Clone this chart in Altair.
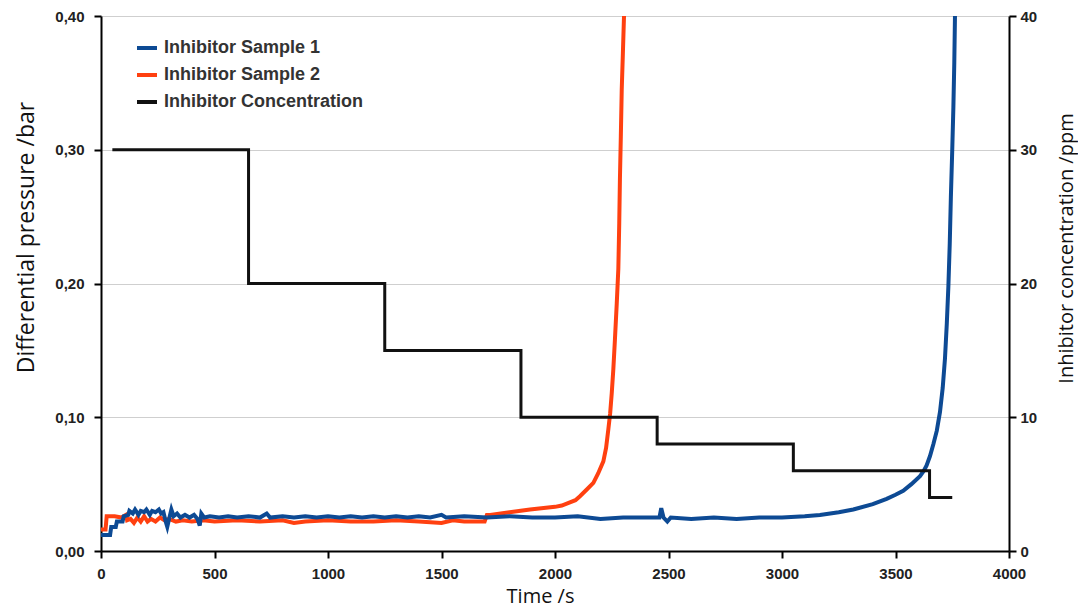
import altair as alt
import pandas as pd

# ---- data ----
s1_t = [0, 40, 45, 65, 70, 95, 100, 120, 125, 140, 150, 165, 175, 190, 200, 215, 225, 240, 255, 265,
        275, 285, 292, 300, 310, 320, 335, 350, 370, 390, 410, 425, 435, 442, 455, 480, 520, 560, 600,
        650, 700, 730, 745, 800, 850, 900, 950, 1000, 1050, 1100, 1150, 1200, 1250, 1300, 1350, 1400,
        1450, 1500, 1520, 1600, 1700, 1800, 1900, 2000, 2100, 2200, 2300, 2400, 2460, 2468, 2478, 2495,
        2510, 2600, 2700, 2800, 2900, 3000, 3100, 3167, 3250, 3314, 3400, 3461, 3500, 3534, 3570, 3608,
        3625, 3637, 3652, 3667, 3682, 3696, 3708, 3718, 3726, 3733, 3739, 3744, 3750, 3755, 3759, 3762]
s1_v = [0.012, 0.012, 0.018, 0.018, 0.022, 0.022, 0.026, 0.027, 0.030, 0.028, 0.031, 0.027, 0.030, 0.029,
        0.031, 0.027, 0.030, 0.029, 0.031, 0.028, 0.029, 0.022, 0.018, 0.024, 0.031, 0.026, 0.028, 0.025,
        0.027, 0.025, 0.027, 0.024, 0.019, 0.028, 0.025, 0.026, 0.025, 0.026, 0.025, 0.026, 0.025, 0.028,
        0.025, 0.026, 0.025, 0.026, 0.025, 0.026, 0.025, 0.026, 0.025, 0.026, 0.025, 0.026, 0.025, 0.026,
        0.025, 0.027, 0.025, 0.026, 0.025, 0.026, 0.025, 0.025, 0.026, 0.024, 0.025, 0.025, 0.025, 0.032,
        0.025, 0.022, 0.025, 0.024, 0.025, 0.024, 0.025, 0.025, 0.026, 0.027, 0.029, 0.031, 0.035, 0.039,
        0.042, 0.045, 0.050, 0.056, 0.060, 0.064, 0.071, 0.080, 0.090, 0.104, 0.122, 0.144, 0.170, 0.198,
        0.230, 0.265, 0.300, 0.332, 0.365, 0.400]

s2_t = [0, 20, 25, 60, 90, 110, 115, 130, 145, 160, 175, 190, 205, 220, 240, 260, 280, 300, 330, 360,
        400, 450, 500, 600, 700, 800, 850, 900, 1000, 1100, 1200, 1300, 1400, 1500, 1550, 1600, 1690,
        1700, 1714, 1800, 1890, 2000, 2030, 2060, 2090, 2110, 2140, 2169, 2190, 2213, 2225, 2235, 2243,
        2250, 2257, 2264, 2272, 2279, 2283, 2286, 2290, 2294, 2299, 2304]
s2_v = [0.016, 0.016, 0.026, 0.026, 0.025, 0.027, 0.023, 0.024, 0.021, 0.025, 0.022, 0.026, 0.022, 0.024,
        0.022, 0.025, 0.023, 0.024, 0.022, 0.023, 0.022, 0.023, 0.022, 0.023, 0.022, 0.023, 0.021, 0.022,
        0.023, 0.022, 0.022, 0.023, 0.022, 0.021, 0.023, 0.022, 0.022, 0.027, 0.027, 0.029, 0.031, 0.033,
        0.034, 0.036, 0.038, 0.041, 0.046, 0.051, 0.058, 0.067, 0.077, 0.091, 0.103, 0.118, 0.136, 0.158,
        0.185, 0.211, 0.245, 0.278, 0.310, 0.345, 0.372, 0.400]

conc_t = [50, 650, 1250, 1850, 2450, 3050, 3650, 3750]
conc_v = [30, 20, 15, 10, 8, 6, 4, 4]

names = ["Inhibitor Sample 1", "Inhibitor Sample 2", "Inhibitor Concentration"]
colors = ["#0d4a94", "#ff4010", "#111111"]

x_ticks = [0, 500, 1000, 1500, 2000, 2500, 3000, 3500, 4000]
yl_ticks = [0, 0.1, 0.2, 0.3, 0.4]
yr_ticks = [0, 10, 20, 30, 40]

df1 = pd.DataFrame({"t": s1_t, "v": s1_v, "s": names[0]})
df2 = pd.DataFrame({"t": s2_t, "v": s2_v, "s": names[1]})
df3 = pd.DataFrame({"t": conc_t, "v": conc_v, "s": names[2]})

legend = alt.Legend(orient="none", legendX=34, legendY=20, title=None, symbolType="stroke",
                    symbolSize=400, symbolStrokeWidth=4, labelFont="Liberation Sans",
                    labelFontWeight="bold", labelFontSize=18, labelColor="#333333",
                    rowPadding=6, labelOffset=5, padding=0, labelLimit=400)
color = alt.Color("s:N", scale=alt.Scale(domain=names, range=colors), legend=legend)

xenc = alt.X("t:Q", scale=alt.Scale(domain=[0, 4000], nice=False),
             axis=alt.Axis(values=x_ticks, format="d", title="Time /s", grid=False,
                           tickSize=7, labelPadding=8, labelFlush=False, titleX=439, titleY=51,
                           titleAlign="center", titleBaseline="alphabetic", titleFontSize=20))

yl_axis = alt.Axis(values=yl_ticks, labelExpr="replace(format(datum.value,'.2f'),'.',',')",
                   title="Differential pressure /bar", grid=True, gridColor="#cfcfcf", gridWidth=1,
                   tickSize=7, labelPadding=10, labelFlush=False, orient="left", titleAngle=270,
                   titleX=-68, titleY=221, titleAlign="center", titleBaseline="alphabetic",
                   titleFontSize=23)
yl = alt.Y("v:Q", scale=alt.Scale(domain=[0, 0.4], nice=False), axis=yl_axis)

yr = alt.Y("v:Q", scale=alt.Scale(domain=[0, 40], nice=False),
           axis=alt.Axis(values=yr_ticks, format="d", orient="right", grid=False,
                         title="Inhibitor concentration /ppm", tickSize=7, labelPadding=4,
                         labelFlush=False, titleAngle=270, titleX=63, titleY=232,
                         titleAlign="center", titleBaseline="alphabetic", titleFontSize=20))

red = alt.Chart(df2).mark_line(strokeWidth=4).encode(x=xenc, y=yl, color=color)
blue = alt.Chart(df1).mark_line(strokeWidth=4).encode(x=xenc, y=yl, color=color)
black = alt.Chart(df3).mark_line(interpolate="step-after", strokeWidth=3).encode(x=xenc, y=yr, color=color)

chart = (
    alt.layer(alt.layer(red, blue), black)
    .resolve_scale(y="independent")
    .properties(width=908, height=535,
                autosize=alt.AutoSizeParams(type="none"),
                padding={"left": 93, "top": 8, "right": 69, "bottom": 57})
    .configure_view(stroke=None)
    .configure_axis(domainColor="black", domainWidth=2, tickColor="black", tickWidth=2,
                    labelFont="Liberation Sans", labelFontWeight="bold", labelFontSize=15,
                    labelColor="#222222", titleFont="Open Sans", titleFontWeight="normal",
                    titleFontSize=22, titleColor="#111111")
)

chart.save("out.html", embed_options={"renderer": "svg", "actions": False})
